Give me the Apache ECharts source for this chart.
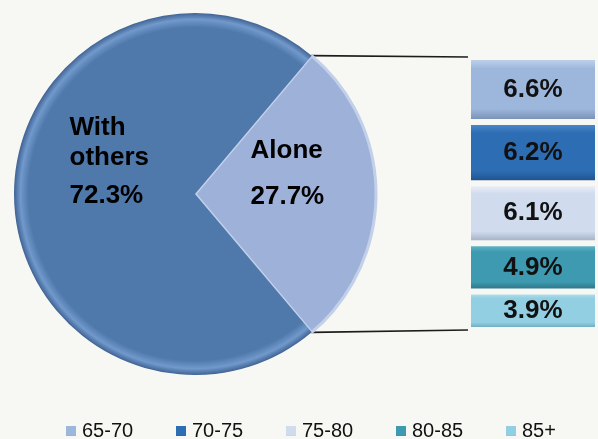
<!DOCTYPE html>
<html>
<head>
<meta charset="utf-8">
<script src="https://cdn.jsdelivr.net/npm/echarts@6/dist/echarts.min.js"></script>
<style>
  html, body { margin: 0; padding: 0; background: #f7f8f3; }
  #main { width: 598px; height: 439px; }
</style>
</head>
<body>
<div id="main"></div>
<script>
// living arrangement split (pie)
var pieNames = ['Alone', 'With others']
var pieValues = [27.7, 72.3]

// breakdown of "Alone" by age group (stacked box on the right)
var ageGroups = ['65-70', '70-75', '75-80', '80-85', '85+']
var aloneShares = [6.6, 6.2, 6.1, 4.9, 3.9]

var bg = '#f7f8f3'
var font = "'Liberation Sans', Arial, sans-serif"
var pieCenter = [195, 194]
var pieRadius = 181

// top / base / bottom shades for each age box
var boxColors = [
  ['#c9d9ef', '#9db7dc', '#6f87ab'],
  ['#5590d0', '#2d6db4', '#1d4c82'],
  ['#f3f6fb', '#d0dbee', '#98a5bb'],
  ['#70c1d3', '#3d9ab0', '#28697a'],
  ['#c3e6f1', '#93cfe2', '#5f97a9']
]

function vgrad(c) {
  return new echarts.graphic.LinearGradient(0, 0, 0, 1, [
    { offset: 0, color: c[0] },
    { offset: 0.18, color: c[1] },
    { offset: 0.8, color: c[1] },
    { offset: 1, color: c[2] }
  ])
}

var total = aloneShares.reduce(function(a, b) { return a + b }, 0)
var halfAngle = pieValues[0] / (pieValues[0] + pieValues[1]) * 360 / 2

var series = []
var legends = []
for (var i = 0; i < ageGroups.length; i++) {
  series.push({
    name: ageGroups[i],
    type: 'bar',
    stack: 'alone',
    barWidth: '100%',
    data: [aloneShares[i]],
    itemStyle: {
      color: vgrad(boxColors[i]),
      borderColor: bg,
      borderWidth: 3
    },
    label: {
      show: true,
      position: 'inside',
      formatter: '{c}%',
      fontFamily: font,
      fontSize: 26,
      fontWeight: 'bold',
      color: '#111'
    }
  })
  // one legend per group so the items sit on an even 110px pitch
  legends.push({
    data: [ageGroups[i]],
    left: 64 + i * 110,
    top: 421,
    padding: 0,
    itemWidth: 12,
    itemHeight: 12,
    icon: 'rect',
    selectedMode: false,
    textStyle: { fontFamily: font, fontSize: 20, color: '#111' }
  })
}

function pieRich(w, lh1, lh2) {
  var base = { fontFamily: font, fontSize: 26, fontWeight: 'bold', color: '#000', width: w, align: 'left' }
  return {
    n: Object.assign({ lineHeight: lh1 }, base),
    p: Object.assign({ lineHeight: lh2 }, base)
  }
}

series.push({
  type: 'pie',
  center: pieCenter,
  radius: pieRadius,
  startAngle: halfAngle,
  clockwise: true,
  silent: true,
  legendHoverLink: false,
  data: [
    {
      name: pieNames[0],
      value: pieValues[0],
      itemStyle: { color: '#9eb1d9', borderColor: '#c3d0ea', borderWidth: 3 },
      label: { offset: [0, -20], rich: pieRich(76, 46, 46) }
    },
    {
      name: pieNames[1],
      value: pieValues[1],
      itemStyle: {
        color: {
          type: 'radial', x: pieCenter[0], y: pieCenter[1], r: pieRadius, global: true,
          colorStops: [
            { offset: 0, color: '#5079ab' },
            { offset: 0.92, color: '#5079ab' },
            { offset: 0.965, color: '#7199cc' },
            { offset: 1, color: '#3f6292' }
          ]
        }
      },
      label: { offset: [8, -28], rich: pieRich(80, 30, 46) }
    }
  ],
  labelLine: { show: false },
  label: {
    show: true,
    position: 'inside',
    formatter: function(p) {
      var lines = p.name.split(' ').map(function(w) { return '{n|' + w + '}' })
      return lines.join('\n') + '\n{p|' + p.value + '%}'
    }
  }
})

var chart = echarts.init(document.getElementById('main'))
var option = {
  backgroundColor: bg,
  animation: false,
  legend: legends,
  grid: { left: 468, right: -8, top: 57, bottom: 109 },
  xAxis: { type: 'category', data: ['Alone'], show: false },
  yAxis: { type: 'value', inverse: true, min: 0, max: total, show: false },
  series: series
}
chart.setOption(option)

// connector lines from the "Alone" slice edges to the stacked box
var rad = halfAngle * Math.PI / 180
var tipX = pieCenter[0] + pieRadius * Math.cos(rad)
var tipTop = pieCenter[1] - pieRadius * Math.sin(rad)
var tipBot = pieCenter[1] + pieRadius * Math.sin(rad)
var gridRect = chart.getModel().getComponent('grid', 0).coordinateSystem.getRect()
var boxTop = chart.convertToPixel({ yAxisIndex: 0 }, 0)
var boxBot = chart.convertToPixel({ yAxisIndex: 0 }, total)
chart.setOption({
  graphic: [
    { type: 'line', z: 1, shape: { x1: tipX, y1: tipTop, x2: gridRect.x, y2: boxTop }, style: { stroke: '#1c1c1c', lineWidth: 1.6 } },
    { type: 'line', z: 1, shape: { x1: tipX, y1: tipBot, x2: gridRect.x, y2: boxBot }, style: { stroke: '#1c1c1c', lineWidth: 1.6 } }
  ]
})
</script>
</body>
</html>
